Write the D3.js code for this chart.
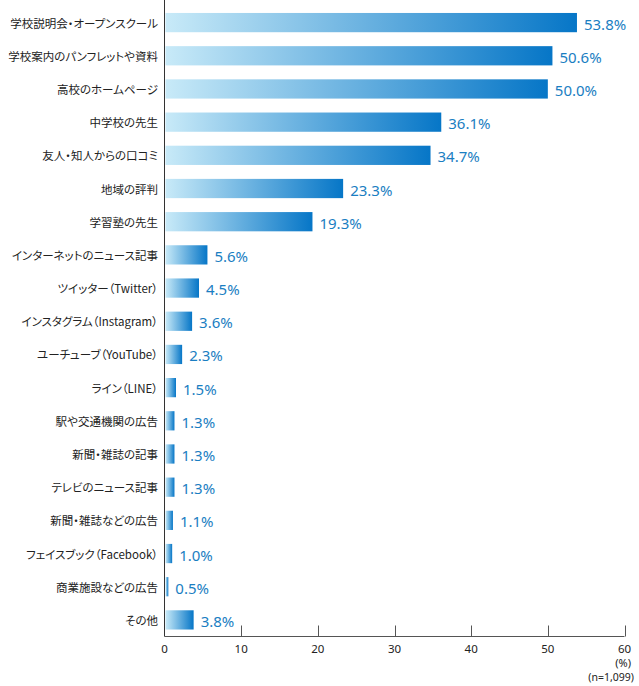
<!DOCTYPE html>
<html><head><meta charset="utf-8">
<script src="https://cdn.jsdelivr.net/npm/d3@7"></script>
<style>body{margin:0;background:#fff} .lab{font-feature-settings:"palt" 1;}</style>
</head><body>
<svg id="c" width="639" height="686"></svg>
<script>
const categories = ["学校説明会・オープンスクール","学校案内のパンフレットや資料","高校のホームページ","中学校の先生","友人・知人からの口コミ","地域の評判","学習塾の先生","インターネットのニュース記事","ツイッター（Twitter）","インスタグラム（Instagram）","ユーチューブ（YouTube）","ライン（LINE）","駅や交通機関の広告","新聞・雑誌の記事","テレビのニュース記事","新聞・雑誌などの広告","フェイスブック（Facebook）","商業施設などの広告","その他"];
const values = [53.8,50.6,50.0,36.1,34.7,23.3,19.3,5.6,4.5,3.6,2.3,1.5,1.3,1.3,1.3,1.1,1.0,0.5,3.8];
const ticks = [0,10,20,30,40,50,60];

const svg = d3.select("#c");
const x = d3.scaleLinear().domain([0,60]).range([164.5,624.5]);
const y = d3.scaleBand().domain(categories).range([6,636.5]).paddingInner(0.42).paddingOuter(0.21);

const defs = svg.append("defs");
const grad = defs.append("linearGradient").attr("id","g").attr("x1","0%").attr("x2","100%").attr("y1","0").attr("y2","0");
grad.append("stop").attr("offset","0%").attr("stop-color","#c8eaf8");
grad.append("stop").attr("offset","100%").attr("stop-color","#0676c7");

svg.append("g").selectAll("rect").data(values).join("rect")
  .attr("x", x(0)+1)
  .attr("y",(d,i)=>y(categories[i]))
  .attr("width",d=>x(d)-x(0)-1)
  .attr("height",y.bandwidth())
  .attr("fill","url(#g)");

const labs = svg.append("g").selectAll("text").data(categories).join("text")
  .attr("class","lab")
  .attr("x",158).attr("y",d=>y(d)+y.bandwidth()/2)
  .attr("text-anchor","end").attr("dominant-baseline","central")
  .attr("font-family","'Noto Sans CJK JP', sans-serif").attr("font-size",11.5).attr("fill","#222")
  .text(d=>d);
// keep labels inside the left margin
labs.each(function(){
  const w = this.getComputedTextLength();
  if (w > 150) d3.select(this).attr("textLength",150).attr("lengthAdjust","spacingAndGlyphs");
});

svg.append("g").selectAll("text").data(values).join("text")
  .attr("x",d=>x(d)+7).attr("y",(d,i)=>y(categories[i])+y.bandwidth()/2+1)
  .attr("dominant-baseline","central")
  .attr("font-family","'Noto Sans', sans-serif").attr("font-size",15).attr("fill","#1a7ec2")
  .text(d=>d.toFixed(1)+"%");

// axes
const axisY = 636.5;
svg.append("line").attr("x1",x(0)).attr("x2",x(0)).attr("y1",0).attr("y2",axisY).attr("stroke","#333").attr("stroke-width",1);
svg.append("line").attr("x1",x(0)).attr("x2",x(60)).attr("y1",axisY).attr("y2",axisY).attr("stroke","#555").attr("stroke-width",1);
svg.append("g").selectAll("line").data(ticks.slice(1)).join("line")
  .attr("x1",d=>Math.round(x(d))+0.5).attr("x2",d=>Math.round(x(d))+0.5).attr("y1",axisY-11).attr("y2",axisY)
  .attr("stroke","#555");
svg.append("g").selectAll("text").data(ticks).join("text")
  .attr("x",d=>x(d)).attr("y",648).attr("text-anchor","middle").attr("dominant-baseline","central")
  .attr("font-family","'Noto Sans', sans-serif").attr("font-size",11.5).attr("fill","#222")
  .text(d=>d);
svg.append("text").attr("x",631).attr("y",662).attr("text-anchor","end").attr("dominant-baseline","central")
  .attr("font-family","'Noto Sans', sans-serif").attr("font-size",11).attr("fill","#222").text("(%)");
svg.append("text").attr("x",634).attr("y",677).attr("text-anchor","end").attr("dominant-baseline","central")
  .attr("font-family","'Noto Sans', sans-serif").attr("font-size",10.5).attr("fill","#222").text("(n=1,099)");
</script>
</body></html>
